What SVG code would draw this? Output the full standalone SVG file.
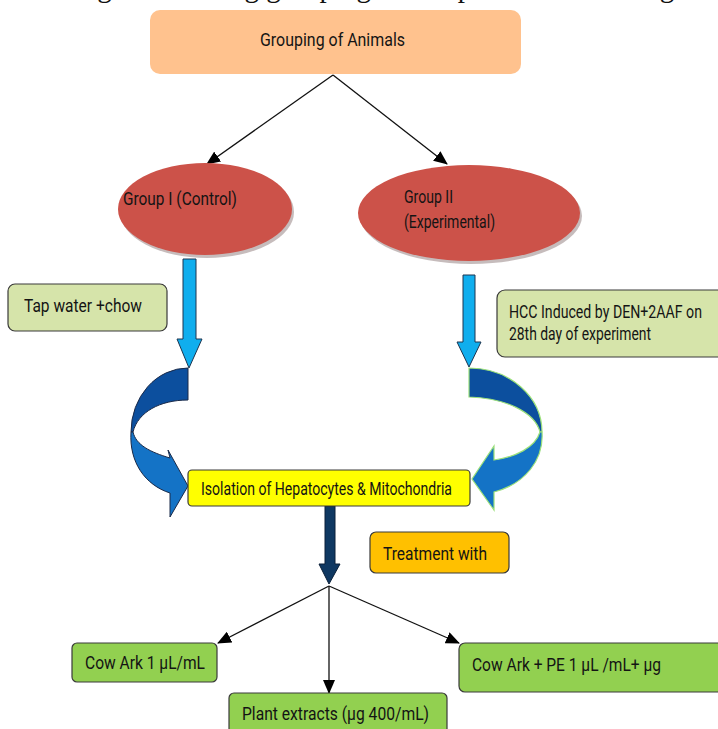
<svg xmlns="http://www.w3.org/2000/svg" width="718" height="729" viewBox="0 0 718 729">
<style>
.t{font-family:Roboto,"Liberation Sans",sans-serif;font-size:18px;fill:#141414}
.cap{font-family:"Liberation Serif","Times New Roman",serif;font-size:29px;fill:#111}
.box{stroke:#3a3a3a;stroke-width:1.2}
.conn{stroke:#111;stroke-width:1.3;fill:none;marker-end:url(#ah)}
.blue{fill:#10AEEE;stroke:#1d3550;stroke-width:1}
</style>
<defs>
<marker id="ah" markerWidth="14" markerHeight="12" refX="13" refY="6" orient="auto" markerUnits="userSpaceOnUse">
<path d="M0,0 L14,6 L0,12 Z" fill="#000"/>
</marker>
</defs>
<rect width="718" height="729" fill="#fff"/>
<text class="cap" y="-3"><tspan x="73">Fig. 1: Showing grouping</tspan><tspan x="399">of experimental</tspan><tspan x="613">design</tspan></text>

<g id="connectors">
<line class="conn" x1="333" y1="75" x2="207" y2="164"/>
<line class="conn" x1="333" y1="75" x2="447" y2="164"/>
<line class="conn" x1="329" y1="586" x2="218" y2="643"/>
<line class="conn" x1="329" y1="586" x2="329" y2="693"/>
<line class="conn" x1="329" y1="586" x2="459" y2="643"/>
<path class="blue" d="M183,259 L196,259 L196,339 L202,339 L189,368 L177,339 L183,339 Z"/>
<path class="blue" d="M463,275 L475,275 L475,342 L481,342 L469,367 L457,342 L463,342 Z"/>
<path d="M188,368 A57,64 0 0 0 131,432 L133,432 C138,412 160,400 188,400 Z" fill="#0C4F9E" stroke="#1b2a48" stroke-width="1"/>
<path d="M131,432 C129,462 145,485 170,493 L170,517 L188,486 L168,450 L170,458 C150,452 136,445 133,432 Z" fill="#1473C6" stroke="#1b2a48" stroke-width="1"/>
<path d="M469,368 A73,64 0 0 1 542,432 L540,432 C535,412 505,398 469,397 Z" fill="#0C4F9E" stroke="#9BE07A" stroke-width="1.2"/>
<path d="M542,432 C544,460 525,484 494,492 L494,510 L472,479 L494,446 L494,460 C515,457 535,448 540,432 Z" fill="#1473C6" stroke="#9BE07A" stroke-width="1.2"/>
<path d="M325,506 L335,506 L335,564 L340,564 L329,584 L319,564 L325,564 Z" fill="#0F3862" stroke="#0a1f38" stroke-width="1"/>
</g>

<g id="grouping">
<rect x="150" y="10" width="371" height="64" rx="10" fill="#FFC28E"/>
<text class="t" x="260" y="46" textLength="145" lengthAdjust="spacingAndGlyphs">Grouping of Animals</text>
</g>

<g id="group1">
<ellipse cx="207" cy="212" rx="87" ry="46" fill="#a09090" opacity="0.6"/>
<ellipse cx="205" cy="209" rx="87" ry="46" fill="#CC5249"/>
<text class="t" x="123" y="205" textLength="114" lengthAdjust="spacingAndGlyphs">Group I (Control)</text>
</g>

<g id="group2">
<ellipse cx="471" cy="216" rx="111" ry="48" fill="#a09090" opacity="0.6"/>
<ellipse cx="469" cy="213" rx="111" ry="48" fill="#CC5249"/>
<text class="t" x="404" y="203" textLength="49" lengthAdjust="spacingAndGlyphs">Group II</text>
<text class="t" x="404" y="228" textLength="91" lengthAdjust="spacingAndGlyphs">(Experimental)</text>
</g>

<g id="tapwater">
<rect class="box" x="8" y="284" width="159" height="47" rx="7" fill="#D6E4AA"/>
<text class="t" x="24" y="312" textLength="118" lengthAdjust="spacingAndGlyphs">Tap water +chow</text>
</g>

<g id="hcc">
<rect class="box" x="497" y="290" width="230" height="67" rx="8" fill="#D6E4AA"/>
<text class="t" x="509" y="318" textLength="193" lengthAdjust="spacingAndGlyphs">HCC Induced by DEN+2AAF on</text>
<text class="t" x="509" y="340" textLength="142" lengthAdjust="spacingAndGlyphs">28th day of experiment</text>
</g>

<g id="isolation">
<rect class="box" x="188" y="470" width="282" height="36" rx="4" fill="#FFFF00"/>
<text class="t" x="201" y="495" textLength="251" lengthAdjust="spacingAndGlyphs">Isolation of Hepatocytes &amp; Mitochondria</text>
</g>

<g id="treatment">
<rect class="box" x="370" y="532" width="139" height="41" rx="6" fill="#FFC000"/>
<text class="t" x="383" y="560" textLength="104" lengthAdjust="spacingAndGlyphs">Treatment with</text>
</g>

<g id="cowark">
<rect class="box" x="72" y="643" width="145" height="39" rx="5" fill="#92D050"/>
<text class="t" x="85" y="669" textLength="120" lengthAdjust="spacingAndGlyphs">Cow Ark 1 µL/mL</text>
</g>

<g id="plant">
<rect class="box" x="229" y="693" width="218" height="45" rx="5" fill="#92D050"/>
<text class="t" x="242" y="720" textLength="187" lengthAdjust="spacingAndGlyphs">Plant extracts (µg 400/mL)</text>
</g>

<g id="cowarkpe">
<rect class="box" x="459" y="643" width="265" height="49" rx="6" fill="#92D050"/>
<text class="t" x="472" y="671" textLength="189" lengthAdjust="spacingAndGlyphs">Cow Ark + PE 1 µL /mL+ µg</text>
</g>
</svg>
